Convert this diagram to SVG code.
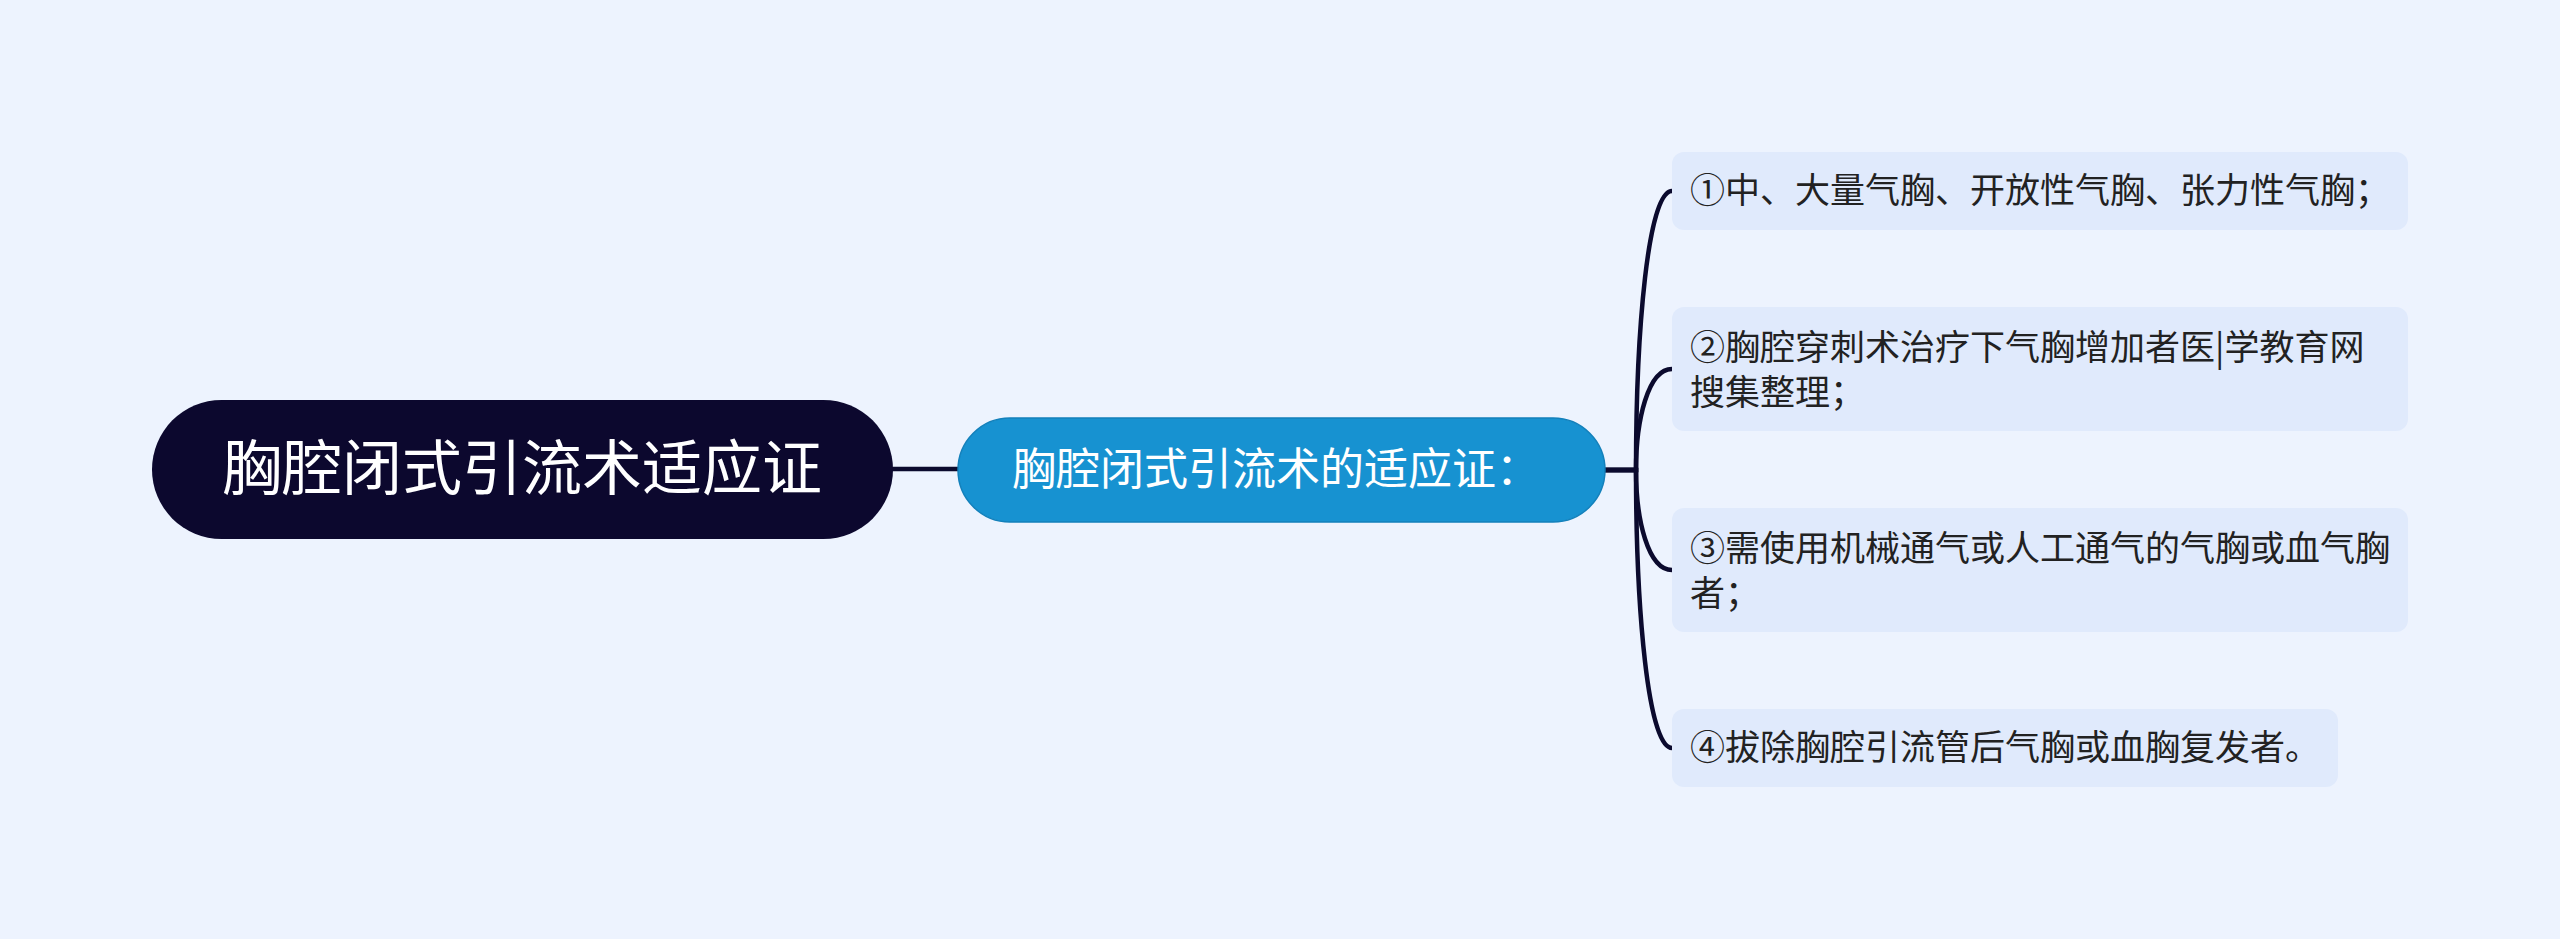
<svg xmlns="http://www.w3.org/2000/svg" width="2560" height="939" viewBox="0 0 2560 939">
<style>
text{font-family:"Noto Sans CJK SC","Noto Sans",sans-serif;}
.leaf rect{fill:#e0eafc;}
.leaf text{font-size:35px;fill:#222;}
.conn{fill:none;stroke:#0b0a2e;stroke-width:4.5;stroke-linecap:round;}
</style>
<rect width="2560" height="939" fill="#edf3fe"/>
<g id="connectors">
<path class="conn" d="M893 469 H958"/>
<path class="conn" d="M1605 470 H1636 C1636 330 1648 191 1672 191"/>
<path class="conn" d="M1605 470 H1636 C1636 420 1648 369 1672 369"/>
<path class="conn" d="M1605 470 H1636 C1636 520 1648 570 1672 570"/>
<path class="conn" d="M1605 470 H1636 C1636 610 1648 748 1672 748"/>
</g>
<g id="root">
<rect x="152" y="400" width="741" height="139" rx="69.5" fill="#0c082e"/>
<text x="522" y="490" font-size="60" fill="#ffffff" text-anchor="middle">胸腔闭式引流术适应证</text>
</g>
<g id="main">
<rect x="958" y="418" width="647" height="104" rx="52" fill="#1792d1" stroke="#1380bb" stroke-width="1.5"/>
<text x="1276" y="485" font-size="44" fill="#ffffff" text-anchor="middle">胸腔闭式引流术的适应证：</text>
</g>
<g id="leaf1" class="leaf">
<rect x="1672" y="152" width="736" height="78" rx="12"/>
<text x="1690" y="203">①中、大量气胸、开放性气胸、张力性气胸；</text>
</g>
<g id="leaf2" class="leaf">
<rect x="1672" y="307" width="736" height="124" rx="12"/>
<text x="1690" y="360">②胸腔穿刺术治疗下气胸增加者医|学教育网<tspan x="1690" y="405">搜集整理；</tspan></text>
</g>
<g id="leaf3" class="leaf">
<rect x="1672" y="508" width="736" height="124" rx="12"/>
<text x="1690" y="561">③需使用机械通气或人工通气的气胸或血气胸<tspan x="1690" y="606">者；</tspan></text>
</g>
<g id="leaf4" class="leaf">
<rect x="1672" y="709" width="666" height="78" rx="12"/>
<text x="1690" y="760">④拔除胸腔引流管后气胸或血胸复发者。</text>
</g>
</svg>
